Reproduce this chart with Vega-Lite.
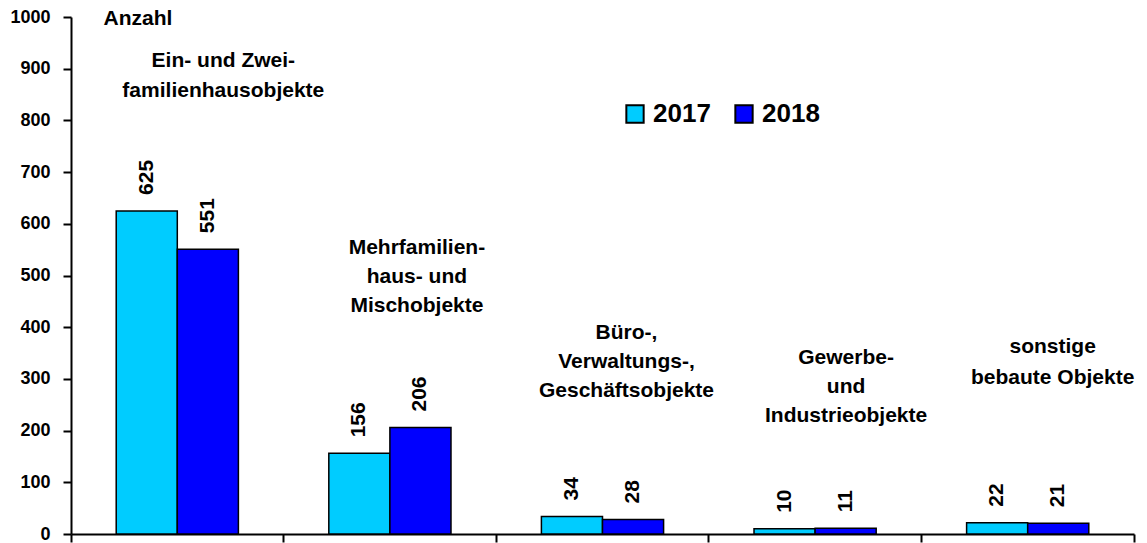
{
  "$schema": "https://vega.github.io/schema/vega-lite/v6.json",
  "width": 1063,
  "height": 517,
  "autosize": "none",
  "padding": {"left": 71, "top": 17, "right": 13, "bottom": 9},
  "background": "white",
  "config": {"view": {"stroke": null}, "font": "Liberation Sans"},
  "datasets": {
    "bars": [
      {"cat": "A", "year": "2017", "v": 625},
      {"cat": "A", "year": "2018", "v": 551},
      {"cat": "B", "year": "2017", "v": 156},
      {"cat": "B", "year": "2018", "v": 206},
      {"cat": "C", "year": "2017", "v": 34},
      {"cat": "C", "year": "2018", "v": 28},
      {"cat": "D", "year": "2017", "v": 10},
      {"cat": "D", "year": "2018", "v": 11},
      {"cat": "E", "year": "2017", "v": 22},
      {"cat": "E", "year": "2018", "v": 21}
    ],
    "labels": [
      {"cat": "A", "t": "Ein- und Zwei-\nfamilienhausobjekte", "ly": 936},
      {"cat": "B", "t": "Mehrfamilien-\nhaus- und\nMischobjekte", "ly": 574},
      {"cat": "C", "t": "Büro-,\nVerwaltungs-,\nGeschäftsobjekte", "ly": 410},
      {"cat": "D", "t": "Gewerbe-\nund\nIndustrieobjekte", "ly": 362},
      {"cat": "E", "t": "sonstige\nbebaute Objekte", "ly": 383}
    ]
  },
  "layer": [
    {
      "data": {"name": "bars"},
      "mark": {"type": "bar", "stroke": "black", "strokeWidth": 1.5},
      "encoding": {
        "x": {"field": "cat", "type": "nominal", "sort": null,
              "scale": {"paddingInner": 0, "paddingOuter": 0},
              "axis": {"title": null, "labels": false, "bandPosition": 0, "tickSize": 8, "tickWidth": 2, "tickColor": "black", "domainColor": "black", "domainWidth": 2}},
        "xOffset": {"field": "year", "type": "nominal", "scale": {"paddingInner": 0, "paddingOuter": 0.74}},
        "y": {"field": "v", "type": "quantitative",
              "scale": {"domain": [0, 1000], "nice": false},
              "axis": {"values": [0,100,200,300,400,500,600,700,800,900,1000], "format": "d", "grid": false,
                       "title": "Anzahl", "titleAngle": 0, "titleX": 32, "titleY": 1, "titleAlign": "left", "titleBaseline": "middle",
                       "titleFontSize": 21, "titleFontWeight": "bold", "titleColor": "black",
                       "labelFontSize": 18, "labelFontWeight": "bold", "labelColor": "black", "labelPadding": 13,
                       "tickSize": 8, "tickWidth": 2, "tickColor": "black", "domainColor": "black", "domainWidth": 2}},
        "color": {"field": "year", "type": "nominal",
                  "scale": {"domain": ["2017", "2018"], "range": ["#00CCFF", "#0000FF"]},
                  "legend": {"title": null, "orient": "none", "legendX": 551, "legendY": 84, "direction": "horizontal",
                             "symbolType": "square", "symbolSize": 300, "symbolStrokeColor": "black", "symbolStrokeWidth": 2,
                             "labelFontSize": 26, "labelFontWeight": "bold", "labelColor": "black", "labelOffset": 5, "columnPadding": 20}}
      }
    },
    {
      "data": {"name": "bars"},
      "mark": {"type": "text", "angle": 270, "align": "left", "baseline": "middle", "dx": 16, "fontSize": 21, "fontWeight": "bold", "color": "black"},
      "encoding": {
        "x": {"field": "cat", "type": "nominal", "sort": null,
              "axis": {"orient": "bottom", "title": null, "labels": false, "domain": false, "values": ["E"], "bandPosition": 1, "tickSize": 8, "tickWidth": 2, "tickColor": "black"}},
        "xOffset": {"field": "year", "type": "nominal"},
        "y": {"field": "v", "type": "quantitative"},
        "text": {"field": "v", "type": "quantitative"}
      }
    },
    {
      "data": {"name": "labels"},
      "transform": [{"filter": "datum.cat == 'A'"}],
      "mark": {"type": "text", "align": "center", "baseline": "top", "lineBreak": "\n", "lineHeight": 30, "dx": 46, "fontSize": 21, "fontWeight": "bold", "color": "black"},
      "encoding": {"x": {"field": "cat", "type": "nominal", "sort": null, "axis": null}, "y": {"field": "ly", "type": "quantitative"}, "text": {"field": "t"}}
    },
    {
      "data": {"name": "labels"},
      "transform": [{"filter": "datum.cat == 'B'"}],
      "mark": {"type": "text", "align": "center", "baseline": "top", "lineBreak": "\n", "lineHeight": 29, "dx": 27, "fontSize": 21, "fontWeight": "bold", "color": "black"},
      "encoding": {"x": {"field": "cat", "type": "nominal", "sort": null, "axis": null}, "y": {"field": "ly", "type": "quantitative"}, "text": {"field": "t"}}
    },
    {
      "data": {"name": "labels"},
      "transform": [{"filter": "datum.cat == 'C'"}],
      "mark": {"type": "text", "align": "center", "baseline": "top", "lineBreak": "\n", "lineHeight": 29, "dx": 24, "fontSize": 21, "fontWeight": "bold", "color": "black"},
      "encoding": {"x": {"field": "cat", "type": "nominal", "sort": null, "axis": null}, "y": {"field": "ly", "type": "quantitative"}, "text": {"field": "t"}}
    },
    {
      "data": {"name": "labels"},
      "transform": [{"filter": "datum.cat == 'D'"}],
      "mark": {"type": "text", "align": "center", "baseline": "top", "lineBreak": "\n", "lineHeight": 29, "dx": 31, "fontSize": 21, "fontWeight": "bold", "color": "black"},
      "encoding": {"x": {"field": "cat", "type": "nominal", "sort": null, "axis": null}, "y": {"field": "ly", "type": "quantitative"}, "text": {"field": "t"}}
    },
    {
      "data": {"name": "labels"},
      "transform": [{"filter": "datum.cat == 'E'"}],
      "mark": {"type": "text", "align": "center", "baseline": "top", "lineBreak": "\n", "lineHeight": 31, "dx": 25, "fontSize": 21, "fontWeight": "bold", "color": "black"},
      "encoding": {"x": {"field": "cat", "type": "nominal", "sort": null, "axis": null}, "y": {"field": "ly", "type": "quantitative"}, "text": {"field": "t"}}
    }
  ],
  "resolve": {"axis": {"x": "independent"}}
}
